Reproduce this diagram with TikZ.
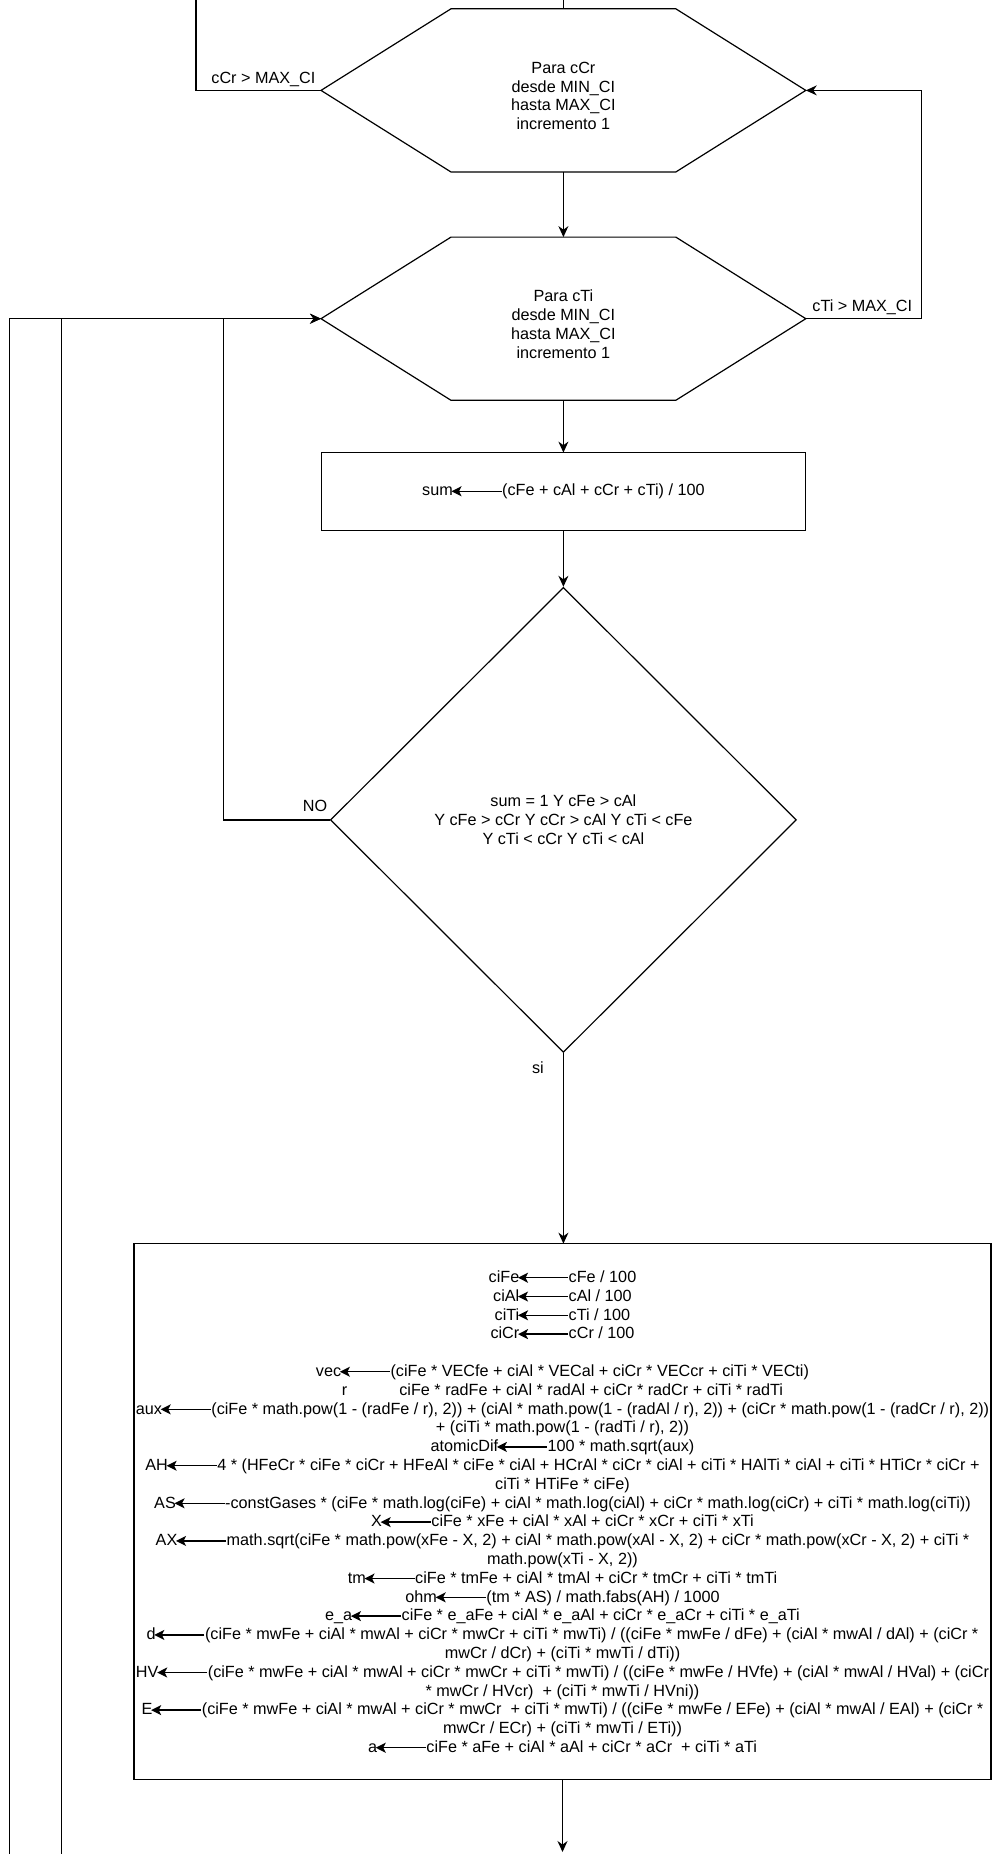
\documentclass[tikz,border=0pt]{standalone}
\usepackage{fontspec}
\setmainfont{Liberation Sans}
\usetikzlibrary{arrows.meta, positioning, shapes.geometric, calc}

% flecha de asignacion dentro del texto
\newcommand{\asig}{\kern-2pt\tikz[baseline=-0.55ex]\draw[-{Stealth[length=10pt,width=10pt,inset=2.5pt]}, line width=1.4pt] (50pt,0pt) -- (0pt,0pt);}

\tikzset{
  txt/.style={font=\fontsize{16.2}{18.8}\selectfont, align=center, inner sep=0pt},
  hexa/.style={minimum width=483.6pt, minimum height=162pt, inner sep=0pt},
  caja/.style={draw, rectangle, inner sep=0pt, txt},
  decision/.style={draw, diamond, minimum width=466pt, minimum height=465pt, inner sep=0pt, txt},
  etiq/.style={txt}
}

\begin{document}
\begin{tikzpicture}[x=1pt, y=-1pt, line width=1.2pt, >={Stealth[length=11pt,width=10pt]}]
  \useasboundingbox (0,0) rectangle (992,1854);

  % Bucle cCr
  \node[hexa] (h1) at (563.4,90.4) {};
  \draw (h1.west) -- ([xshift=130pt]h1.north west) -- ([xshift=-130pt]h1.north east)
    -- (h1.east) -- ([xshift=-130pt]h1.south east) -- ([xshift=130pt]h1.south west) -- cycle;
  \node[txt] (h1t) at ([yshift=-5.5pt]h1.center) {Para cCr\\desde MIN\_CI\\hasta MAX\_CI\\incremento 1};

  % Bucle cTi
  \node[hexa] (h2) at (563.4,318.7) {};
  \draw (h2.west) -- ([xshift=130pt]h2.north west) -- ([xshift=-130pt]h2.north east)
    -- (h2.east) -- ([xshift=-130pt]h2.south east) -- ([xshift=130pt]h2.south west) -- cycle;
  \node[txt] (h2t) at ([yshift=-5.5pt]h2.center) {Para cTi\\desde MIN\_CI\\hasta MAX\_CI\\incremento 1};

  % Suma
  \node[caja, minimum width=483.6pt, minimum height=78pt] (suma) at (563.4,491.8) {sum\asig(cFe + cAl + cCr + cTi) / 100};

  % Condicion
  \node[decision] (dec) at (563.4,819.9) {sum = 1 Y cFe > cAl\\Y cFe > cCr Y cCr > cAl Y cTi < cFe\\Y cTi < cCr Y cTi < cAl};

  % Calculos
  \node[caja, minimum width=857pt, minimum height=535.7pt] (calc) at (562.5,1511.7) {%
    ciFe\asig cFe / 100\\
    ciAl\asig cAl / 100\\
    ciTi\asig cTi / 100\\
    ciCr\asig cCr / 100\\[18.8pt]
    vec\asig(ciFe * VECfe + ciAl * VECal + ciCr * VECcr + ciTi * VECti)\\
    r\hspace*{52pt}ciFe * radFe + ciAl * radAl + ciCr * radCr + ciTi * radTi\\
    aux\asig(ciFe * math.pow(1 - (radFe / r), 2)) + (ciAl * math.pow(1 - (radAl / r), 2)) + (ciCr * math.pow(1 - (radCr / r), 2))\\
    + (ciTi * math.pow(1 - (radTi / r), 2))\\
    atomicDif\asig 100 * math.sqrt(aux)\\
    AH\asig 4 * (HFeCr * ciFe * ciCr + HFeAl * ciFe * ciAl + HCrAl * ciCr * ciAl + ciTi * HAlTi * ciAl + ciTi * HTiCr * ciCr +\\
    ciTi * HTiFe * ciFe)\\
    AS\asig -constGases * (ciFe * math.log(ciFe) + ciAl * math.log(ciAl) + ciCr * math.log(ciCr) + ciTi * math.log(ciTi))\\
    X\asig ciFe * xFe + ciAl * xAl + ciCr * xCr + ciTi * xTi\\
    AX\asig math.sqrt(ciFe * math.pow(xFe - X, 2) + ciAl * math.pow(xAl - X, 2) + ciCr * math.pow(xCr - X, 2) + ciTi *\\
    math.pow(xTi - X, 2))\\
    tm\asig ciFe * tmFe + ciAl * tmAl + ciCr * tmCr + ciTi * tmTi\\
    ohm\asig(tm * AS) / math.fabs(AH) / 1000\\
    e\_a\asig ciFe * e\_aFe + ciAl * e\_aAl + ciCr * e\_aCr + ciTi * e\_aTi\\
    d\asig(ciFe * mwFe + ciAl * mwAl + ciCr * mwCr + ciTi * mwTi) / ((ciFe * mwFe / dFe) + (ciAl * mwAl / dAl) + (ciCr *\\
    mwCr / dCr) + (ciTi * mwTi / dTi))\\
    HV\asig(ciFe * mwFe + ciAl * mwAl + ciCr * mwCr + ciTi * mwTi) / ((ciFe * mwFe / HVfe) + (ciAl * mwAl / HVal) + (ciCr\\
    * mwCr / HVcr)\ \ + (ciTi * mwTi / HVni))\\
    E\asig(ciFe * mwFe + ciAl * mwAl + ciCr * mwCr\ \ + ciTi * mwTi) / ((ciFe * mwFe / EFe) + (ciAl * mwAl / EAl) + (ciCr *\\
    mwCr / ECr) + (ciTi * mwTi / ETi))\\
    a\asig ciFe * aFe + ciAl * aAl + ciCr * aCr\ \ + ciTi * aTi};

  % Etiquetas
  \node[etiq, anchor=south east] (lcr) at ([xshift=-5pt,yshift=3pt]h1.west) {cCr > MAX\_CI};
  \node[etiq, anchor=south west] (lti) at ([xshift=6pt,yshift=3pt]h2.east) {cTi > MAX\_CI};
  \node[etiq, anchor=south east] (lno) at ([xshift=-2pt,yshift=8pt]dec.west) {NO};
  \node[etiq, anchor=north east] (lsi) at ([xshift=-19pt,yshift=-8pt]dec.south) {si};

  % Conectores
  \coordinate (arriba) at (563.4,0);
  \coordinate (salida) at (196,0);
  \coordinate (ret1) at (9.5,1854);
  \coordinate (ret2) at (61.5,1854);
  \coordinate (abajo) at (562.5,1852);
  \draw (arriba) -- (h1.north);
  \draw (h1.west) -| (salida);
  \draw[->] (h1) -- (h2);
  \draw[->] (h2.east) -- ++(115.8,0) |- (h1.east);
  \draw[->] (ret1) |- (h2.west);
  \draw (ret2) -- (ret2 |- h2.west);
  \draw[->] (dec.west) -- ++(-106.4,0) |- (h2.west);
  \draw[->] (h2) -- (suma);
  \draw[->] (suma) -- (dec);
  \draw[->] (dec.south) -- (dec.south |- calc.north);
  \draw[->] (calc) -- (abajo);
\end{tikzpicture}
\end{document}
